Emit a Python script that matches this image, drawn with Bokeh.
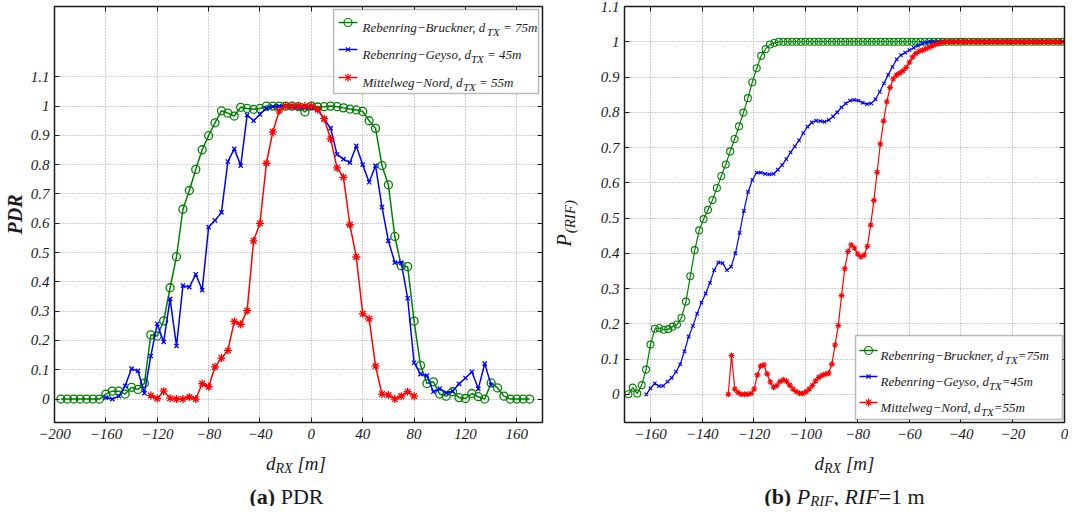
import numpy as np
from bokeh.plotting import figure
from bokeh.layouts import row, column
from bokeh.models import (Label, BoxAnnotation, LinearAxis, FixedTicker,
                          CustomJSTickFormatter, Range1d)
from bokeh.embed import file_html
from bokeh.resources import INLINE

# ------------------------------------------------------------------ data
# (a) PDR, 5 m bins of d_RX [m]
pdr_d_bruckner = list(range(-195, 171, 5))
pdr_bruckner = [
    0, 0, 0, 0, 0, 0, 0,
    0.017, 0.027, 0.027, 0.017, 0.040, 0.033, 0.054, 0.219, 0.215, 0.267,
    0.380, 0.486, 0.648, 0.712, 0.784, 0.851, 0.899, 0.943, 0.984, 0.976,
    0.966, 0.996, 0.992, 0.989, 0.992, 1.0, 1.0, 1.0, 1.0, 1.0,
    0.998, 0.980, 1.0, 0.997, 0.998, 1.0, 0.998, 0.994, 0.990, 0.987,
    0.982, 0.950, 0.924, 0.797, 0.731, 0.555, 0.455, 0.452, 0.266, 0.115,
    0.053, 0.059, 0.017, 0.010, 0.025, 0.005, 0.002, 0.019, 0.008, 0.0,
    0.055, 0.038, 0.010, 0, 0, 0, 0]

pdr_d_geyso = list(range(-160, 141, 5))
pdr_geyso = [
    0.005, 0.0, 0.010, 0.045, 0.104, 0.096, 0.020, 0.147, 0.257, 0.195,
    0.342, 0.181, 0.387, 0.382, 0.426, 0.372, 0.587, 0.610, 0.637, 0.811,
    0.854, 0.797, 0.969, 0.950, 0.972, 0.992, 0.998, 1.0, 1.0, 0.997,
    0.995, 0.995, 0.995, 0.989, 0.955, 0.925, 0.835, 0.819, 0.807, 0.864,
    0.800, 0.740, 0.797, 0.655, 0.540, 0.466, 0.466, 0.344, 0.124, 0.085,
    0.080, 0.025, 0.036, 0.021, 0.027, 0.052, 0.072, 0.093, 0.035, 0.121,
    0.048]

pdr_d_nord = list(range(-125, 81, 5))
pdr_nord = [
    0.012, 0.002, 0.027, 0.003, 0.0, 0.0, 0.007, 0.0, 0.053, 0.042,
    0.110, 0.140, 0.166, 0.265, 0.255, 0.302, 0.540, 0.600, 0.805, 0.912,
    0.984, 1.0, 1.0, 1.0, 1.0, 1.0, 0.988, 0.957, 0.888, 0.789,
    0.757, 0.595, 0.485, 0.291, 0.274, 0.113, 0.017, 0.014, 0.0, 0.010,
    0.025, 0.010]

# (b) P_(RIF), RIF = 1 m  (sample start / spacing in d_RX)
rif_start_bruckner, rif_step_bruckner = -168.5, 1.71
rif_bruckner = [
    0.0, 0.019, 0.002, 0.026, 0.070, 0.141, 0.186, 0.188, 0.183, 0.185,
    0.192, 0.198, 0.217, 0.263, 0.335, 0.409, 0.465, 0.497, 0.523, 0.551,
    0.585, 0.619, 0.652, 0.689, 0.724, 0.760, 0.799, 0.840, 0.885, 0.925,
    0.960, 0.979, 0.992, 0.997] + [1.0] * 65

rif_start_geyso, rif_step_geyso = -161.6, 1.64
rif_geyso = [
    0.0, 0.017, 0.031, 0.023, 0.024, 0.036, 0.047, 0.064, 0.085, 0.122,
    0.164, 0.194, 0.229, 0.260, 0.286, 0.316, 0.352, 0.374, 0.372, 0.352,
    0.362, 0.400, 0.458, 0.520, 0.574, 0.608, 0.629, 0.629, 0.625, 0.624,
    0.625, 0.637, 0.650, 0.667, 0.686, 0.703, 0.720, 0.741, 0.759, 0.771,
    0.776, 0.775, 0.773, 0.778, 0.788, 0.800, 0.814, 0.825, 0.833, 0.835,
    0.833, 0.827, 0.823, 0.825, 0.837, 0.858, 0.882, 0.906, 0.929, 0.950,
    0.962, 0.969, 0.976, 0.983, 0.989, 0.995, 0.998] + [1.0] * 32

rif_start_nord, rif_step_nord = -129.9, 1.25
rif_nord = [
    0.0, 0.110, 0.015, 0.005, 0.0, 0.0, 0.0, 0.002, 0.015, 0.055,
    0.080, 0.084, 0.058, 0.035, 0.020, 0.025, 0.036, 0.041, 0.037, 0.026,
    0.015, 0.008, 0.003, 0.002, 0.007, 0.015, 0.025, 0.038, 0.048, 0.054,
    0.057, 0.060, 0.085, 0.140, 0.195, 0.280, 0.356, 0.405, 0.424, 0.415,
    0.398, 0.390, 0.395, 0.420, 0.480, 0.550, 0.630, 0.710, 0.775, 0.830,
    0.870, 0.895, 0.906, 0.911, 0.918, 0.927, 0.942, 0.957, 0.967, 0.973,
    0.976, 0.980, 0.984, 0.988, 0.992, 0.995, 0.998] + [1.0] * 37

rif_d_bruckner = np.round(rif_start_bruckner + rif_step_bruckner * np.arange(len(rif_bruckner)), 2)
rif_d_geyso = np.round(rif_start_geyso + rif_step_geyso * np.arange(len(rif_geyso)), 2)
rif_d_nord = np.round(rif_start_nord + rif_step_nord * np.arange(len(rif_nord)), 2)

series_names = ["Rebenring\u2212Bruckner, d", "Rebenring\u2212Geyso, d", "Mittelweg\u2212Nord, d"]
series_dtx = ["75m", "45m", "55m"]

pdr_ticks_x = list(range(-200, 161, 40))
rif_ticks_x = list(range(-160, 1, 20))
ticks_y = [0, 0.1, 0.2, 0.3, 0.4, 0.5, 0.6, 0.7, 0.8, 0.9, 1.0, 1.1]

# ------------------------------------------------------------------ style
GREEN, BLUE, RED = "#008000", "#0000ff", "#ff0000"
TXT = "#1a1a1a"
FONT = "Liberation Serif"
W_ALL, H_ALL = 1068, 506
TOP_H = 444                     # top row height
FR_TOP, FR_BOT = 6, 422         # plot frame top / bottom (px)
TXT_H = H_ALL - TOP_H           # bottom text strip height

W_IT = {' ': 250, '(': 333, ')': 333, ',': 250, '=': 675, '[': 389, ']': 389,
        'A': 611, 'B': 611, 'D': 722, 'F': 611, 'G': 722, 'I': 333, 'M': 833,
        'N': 667, 'P': 611, 'R': 611, 'T': 556, 'X': 611,
        'a': 500, 'b': 500, 'c': 444, 'd': 500, 'e': 444, 'g': 500, 'i': 278,
        'k': 444, 'l': 278, 'm': 722, 'n': 500, 'o': 500, 'r': 389, 's': 389,
        't': 278, 'u': 500, 'w': 667, 'y': 444, '\u2212': 675}
W_RM = {' ': 250, '(': 333, ')': 333, ',': 250, '=': 564, 'P': 556, 'D': 722,
        'R': 667, 'I': 333, 'F': 556, 'm': 778}
W_BF = {' ': 250, '(': 333, ')': 333, 'a': 500, 'b': 556}


def tw(s, size, style):
    tab = W_IT if "italic" in style else (W_BF if style == "bold" else W_RM)
    return sum(tab.get(c, 500) for c in s) * size / 1000.0


class Frame:
    """Frame box of a figure in picture pixels, plus its data ranges."""
    def __init__(self, left, right, top, bottom, xr=(0, 1), yr=(0, 1)):
        self.left, self.right, self.top, self.bottom = left, right, top, bottom
        self.xr, self.yr = xr, yr

    def dx(self, px):
        return self.xr[0] + (px - self.left) / (self.right - self.left) * (self.xr[1] - self.xr[0])

    def dy(self, py):
        return self.yr[0] + (self.bottom - py) / (self.bottom - self.top) * (self.yr[1] - self.yr[0])


def label(p, F, x, y, text, size, style="italic", align="left",
          baseline="alphabetic", angle=0.0):
    p.add_layout(Label(x=x - F.left, y=F.bottom - y, x_units="screen", y_units="screen",
                       text=text, text_font=FONT, text_font_size=f"{size}px",
                       text_font_style=style, text_color=TXT, text_align=align,
                       text_baseline=baseline, angle=angle))


def run(p, F, x, y, segs, center=False):
    total = sum(tw(t, s, st) for t, s, st, _ in segs)
    if center:
        x -= total / 2.0
    for t, s, st, off in segs:
        lead = len(t) - len(t.lstrip(" "))
        xx = x + tw(" " * lead, s, st)
        body = t.strip(" ")
        if body:
            label(p, F, xx, y + off, body, s, st)
        x += tw(t, s, st)


def text_fig(w, h, top_border=0, bottom_border=0):
    f = figure(width=w, height=h, x_range=Range1d(0, w), y_range=Range1d(0, h),
               output_backend="svg", toolbar_location=None, tools="", title=None,
               min_border_left=0, min_border_right=0, min_border_top=top_border,
               min_border_bottom=bottom_border,
               x_axis_location=None, y_axis_location=None)
    f.outline_line_color = None
    f.grid.visible = False
    return f


def make_fig(width, bl, br, F, xticks):
    p = figure(width=width, height=TOP_H, x_range=Range1d(*F.xr), y_range=Range1d(*F.yr),
               output_backend="svg", toolbar_location=None, tools="", title=None,
               min_border_left=bl, min_border_right=br, min_border_top=FR_TOP,
               min_border_bottom=TOP_H - FR_BOT)
    p.outline_line_color = TXT
    p.outline_line_width = 1.5
    xa, ya = p.xaxis[0], p.yaxis[0]
    xa.ticker = FixedTicker(ticks=xticks)
    ya.ticker = FixedTicker(ticks=ticks_y)
    xa.formatter = CustomJSTickFormatter(
        code="return (tick < 0 ? '\u2212' : '') + Math.abs(Math.round(tick));")
    ya.formatter = CustomJSTickFormatter(
        code="return tick.toFixed(1).replace(/\\.0$/, '');")
    for ax in (xa, ya):
        ax.major_label_text_font = FONT
        ax.major_label_text_font_style = "italic"
        ax.major_label_text_font_size = "15px"
        ax.major_label_text_color = TXT
        ax.major_tick_in = 5
        ax.major_tick_out = 0
        ax.major_tick_line_color = TXT
        ax.minor_tick_line_color = None
        ax.axis_line_color = None
        ax.axis_label_text_font = FONT
        ax.axis_label_text_color = TXT
    xa.major_label_standoff = 6
    ya.major_label_standoff = 5
    for loc, tk in (("above", xticks), ("right", ticks_y)):
        ax = LinearAxis(ticker=FixedTicker(ticks=tk),
                        formatter=CustomJSTickFormatter(code="return '';"),
                        major_label_text_font_size="0px", major_label_standoff=0,
                        major_tick_in=5, major_tick_out=0, major_tick_line_color=TXT,
                        minor_tick_line_color=None, axis_line_color=None)
        p.add_layout(ax, loc)
    p.grid.grid_line_color = "#9a9a9a"
    p.grid.grid_line_dash = "1 2"
    p.grid.grid_line_width = 1
    return p


def legend(p, F, box, rows, sx, tx, sep, markers, colors, msize):
    l, r, t, b = box
    p.add_layout(BoxAnnotation(left=F.dx(l), right=F.dx(r), top=F.dy(t), bottom=F.dy(b),
                               fill_color="white", fill_alpha=1.0,
                               line_color=TXT, line_width=1.5))
    for i, yrow in enumerate(rows):
        p.line([F.dx(sx[0]), F.dx(sx[1])], [F.dy(yrow), F.dy(yrow)],
               color=colors[i], line_width=1.5, level="overlay")
        p.scatter([F.dx((sx[0] + sx[1]) / 2.0)], [F.dy(yrow)], marker=markers[i],
                  size=msize[i], fill_color=None, line_color=colors[i],
                  line_width=1.2, level="overlay")
        run(p, F, tx, yrow + 4.5, [(series_names[i], 13, "italic", 0),
                                   ("TX", 11, "italic", 5),
                                   (sep + series_dtx[i], 13, "italic", 0)])


# ------------------------------------------------------------------ geometry (picture px)
# columns: plot A [0,545) | ylabel B [545,580) | plot B [580,1068)
FA = Frame(49, 542, FR_TOP, FR_BOT, (-200, 180), (-0.08, 1.34))
FB = Frame(624, 1064, FR_TOP, FR_BOT, (-170, 0), (-0.08, 1.1))
F_YB = Frame(545, 580, FR_TOP, FR_BOT)
F_BOT = Frame(0, W_ALL, TOP_H, H_ALL)

# ------------------------------------------------------------------ (a) PDR
pa = make_fig(545, 49, 545 - 542, FA, pdr_ticks_x)
pa.yaxis[0].axis_label = "PDR"
pa.yaxis[0].axis_label_text_font_style = "bold italic"
pa.yaxis[0].axis_label_text_font_size = "20px"
pa.yaxis[0].axis_label_standoff = 2
for xs, ys, c, m, s in ((pdr_d_bruckner, pdr_bruckner, GREEN, "circle", 8),
                        (pdr_d_geyso, pdr_geyso, BLUE, "x", 6),
                        (pdr_d_nord, pdr_nord, RED, "asterisk", 8)):
    pa.line(xs, ys, color=c, line_width=1.5)
    pa.scatter(xs, ys, marker=m, size=s, fill_color=None, line_color=c, line_width=1.3)
legend(pa, FA, (331, 538, 9, 93), (22, 49, 77), (336, 355), 357, " = ",
       ["circle", "x", "asterisk"], [GREEN, BLUE, RED], [8, 6, 8])

# ------------------------------------------------------------------ (b) P_RIF
pb = make_fig(W_ALL - 580, 624 - 580, W_ALL - 1064, FB, rif_ticks_x)
for xs, ys, c, m, s in ((rif_d_bruckner, rif_bruckner, GREEN, "circle", 7),
                        (rif_d_geyso, rif_geyso, BLUE, "x", 5),
                        (rif_d_nord, rif_nord, RED, "asterisk", 6)):
    pb.line(xs, ys, color=c, line_width=1.2)
    pb.scatter(xs, ys, marker=m, size=s, fill_color=None, line_color=c, line_width=1.1)
legend(pb, FB, (855, 1062, 335, 419), (350, 376, 402), (859, 877), 880, "=",
       ["circle", "x", "asterisk"], [GREEN, BLUE, RED], [8, 6, 8])

# ------------------------------------------------------------------ text strips
yb_fig = text_fig(35, TOP_H, FR_TOP, TOP_H - FR_BOT)
p_base = FR_TOP + 0.577 * (FR_BOT - FR_TOP)
label(yb_fig, F_YB, 563, p_base, "P", 20, "italic", angle=np.pi / 2)
label(yb_fig, F_YB, 569, p_base - tw("P", 20, "italic") - 1, "(RIF)", 15, "italic",
      angle=np.pi / 2)

bot = text_fig(W_ALL, TXT_H)
xlab = [("d", 19, "italic", 0), ("RX", 14, "italic", 5), (" [m]", 19, "italic", 0)]
run(bot, F_BOT, (FA.left + FA.right) / 2.0, 463, xlab, center=True)
run(bot, F_BOT, (FB.left + FB.right) / 2.0, 463, xlab, center=True)
run(bot, F_BOT, 286, 496, [("(a)", 22, "bold", 0), (" PDR", 22, "normal", 0)], center=True)
run(bot, F_BOT, 844, 496, [("(b)", 22, "bold", 0), (" P", 22, "italic", 0),
                           ("RIF", 15, "italic", 4), (",", 22, "normal", 0),
                           (" RIF", 22, "italic", 0), ("=1 m", 22, "normal", 0)], center=True)

layout = column(row(pa, yb_fig, pb), bot)
open("out.html", "w").write(file_html(layout, INLINE))
